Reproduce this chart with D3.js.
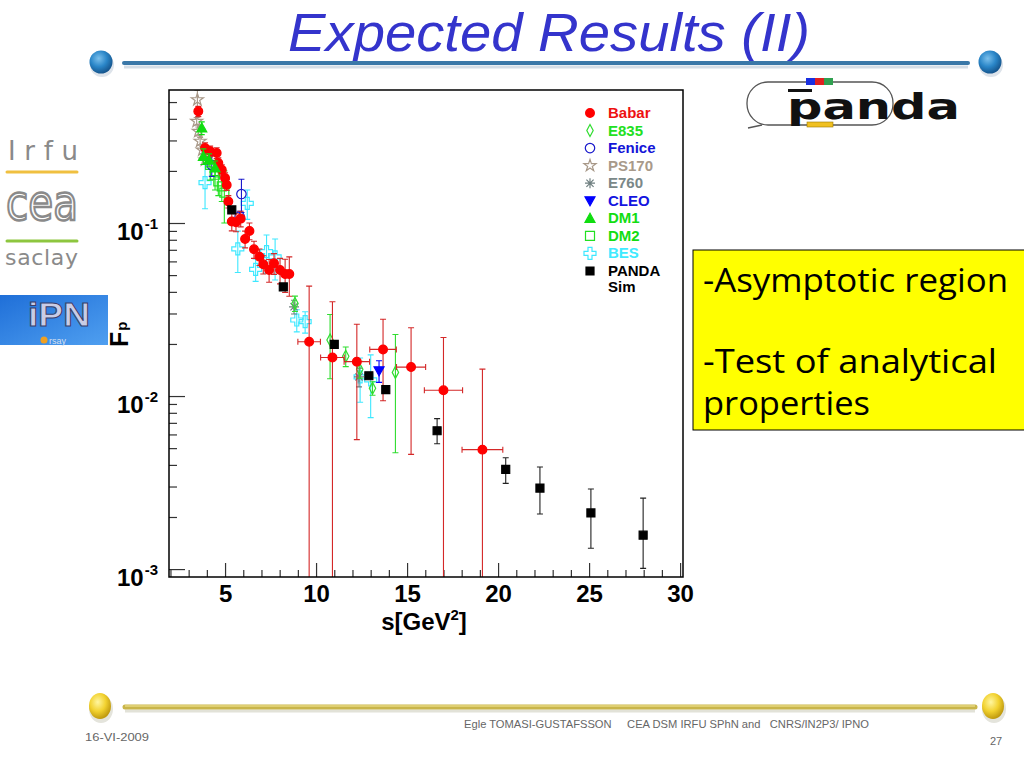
<!DOCTYPE html>
<html>
<head>
<meta charset="utf-8">
<script src="https://cdn.jsdelivr.net/npm/d3@7"></script>
<style>
  html, body { margin: 0; padding: 0; background: #fff; }
  svg { display: block; }
</style>
</head>
<body>
<div id="slide"></div>
<script>
/* DATA */
// Babar (horizontal half-widths in babarDS)
const babarS = [3.53, 3.90, 4.18, 4.54, 4.63, 4.82, 5.00, 5.09, 5.18, 5.37, 5.60, 5.86, 6.10, 6.34, 6.59, 6.89, 7.10, 7.42, 7.69, 8.02, 8.30, 8.53, 9.62, 10.90, 12.24, 13.68, 15.22, 17.00, 19.14];
const babarF = [0.442, 0.271, 0.260, 0.254, 0.222, 0.203, 0.182, 0.166, 0.133, 0.102, 0.101, 0.106, 0.0808, 0.0900, 0.0705, 0.0638, 0.0577, 0.0535, 0.0585, 0.0535, 0.0507, 0.0507, 0.0206, 0.0167, 0.0158, 0.0186, 0.0147, 0.0108, 0.0049];
const babarDF = [0.030, 0.020, 0.018, 0.018, 0.016, 0.014, 0.013, 0.012, 0.011, 0.012, 0.012, 0.011, 0.009, 0.010, 0.008, 0.007, 0.007, 0.008, 0.008, 0.009, 0.011, 0.013, 0.0226, 0.0184, 0.0102, 0.0092, 0.0101, 0.0110, 0.0094];
const babarDS = [0.08, 0.08, 0.08, 0.08, 0.08, 0.08, 0.08, 0.08, 0.08, 0.08, 0.08, 0.08, 0.08, 0.08, 0.08, 0.08, 0.08, 0.08, 0.08, 0.08, 0.08, 0.08, 0.62, 0.65, 0.70, 0.73, 0.80, 1.05, 1.12];
// E835
const e835S = [8.84, 10.77, 11.63, 12.40, 13.10, 14.36];
const e835F = [0.0343, 0.0211, 0.0170, 0.0143, 0.0111, 0.0137];
const e835DF = [0.0035, 0.0085, 0.0022, 0.0016, 0.0010, 0.0090];
// Fenice
const feniceS = [4.27, 5.80, 5.90];
const feniceF = [0.216, 0.109, 0.147];
const feniceDF = [0.030, 0.008, 0.032];
// PS170
const ps170S = [3.44, 3.48, 3.53, 3.63, 3.75, 3.90];
const ps170F = [0.387, 0.516, 0.339, 0.297, 0.264, 0.231];
const ps170DF = [0.020, 0.070, 0.020, 0.015, 0.013, 0.012];
// E760
const e760S = [8.79, 12.36];
const e760F = [0.0328, 0.0129];
const e760DF = [0.0030, 0.0016];
// CLEO
const cleoS = [13.46];
const cleoF = [0.0140];
const cleoDF = [0.0020];
// DM1
const dm1S = [3.72, 3.81, 4.12, 4.45];
const dm1F = [0.354, 0.243, 0.231, 0.208];
const dm1DF = [0.030, 0.025, 0.020, 0.020];
// DM2
const dm2S = [4.18, 4.45, 4.63, 4.82, 4.96];
const dm2F = [0.217, 0.190, 0.174, 0.163, 0.150];
const dm2DF = [0.040, 0.035, 0.030, 0.030, 0.050];
// BES
const besS = [3.90, 5.70, 6.22, 6.68, 7.28, 7.75, 8.94, 9.40, 12.42, 13.00];
const besF = [0.171, 0.0708, 0.130, 0.0540, 0.0683, 0.0638, 0.0275, 0.0269, 0.0129, 0.0124];
const besDF = [0.050, 0.0190, 0.025, 0.008, 0.017, 0.017, 0.0040, 0.0038, 0.0037, 0.0049];
// PANDA simulation (asymmetric errors)
const pandaS = [5.37, 8.20, 11.00, 12.90, 13.83, 16.65, 20.42, 22.30, 25.10, 27.97];
const pandaF = [0.119, 0.0427, 0.0199, 0.0131, 0.0109, 0.0063, 0.00377, 0.00294, 0.00211, 0.00157];
const pandaUp = [0.002, 0.001, 0.0006, 0.0004, 0.0004, 0.0011, 0.00063, 0.00095, 0.00079, 0.0010];
const pandaDn = [0.002, 0.001, 0.0006, 0.0004, 0.0004, 0.0010, 0.00064, 0.00086, 0.00079, 0.00056];
// Ticks
const xMajor = [5, 10, 15, 20, 25, 30];
const xMinor = d3.range(2, 31).filter(v => v % 5 !== 0);
const yMajor = [0.001, 0.01, 0.1];
const yExp = ["-3", "-2", "-1"];
const yMinor = [0.002, 0.003, 0.004, 0.005, 0.006, 0.007, 0.008, 0.009, 0.02, 0.03, 0.04, 0.05, 0.06, 0.07, 0.08, 0.09, 0.2, 0.3, 0.4, 0.5];
// Legend labels
const legendNames = ["Babar", "E835", "Fenice", "PS170", "E760", "CLEO", "DM1", "DM2", "BES", "PANDA"];

/* LAYOUT */
const W = 1024, H = 768;
const f = { left: 169, top: 90, right: 683, bottom: 577 };
const plotFont = "'Liberation Sans', Arial, sans-serif";

const svg = d3.select("#slide").append("svg")
    .attr("width", W).attr("height", H)
    .attr("viewBox", `0 0 ${W} ${H}`);
const defs = svg.append("defs");

// Gradients for the decorative balls
function ballGrad(id, light, mid, dark) {
    const g = defs.append("radialGradient").attr("id", id)
        .attr("cx", "40%").attr("cy", "35%").attr("r", "65%");
    g.append("stop").attr("offset", "0%").attr("stop-color", light);
    g.append("stop").attr("offset", "55%").attr("stop-color", mid);
    g.append("stop").attr("offset", "100%").attr("stop-color", dark);
}
ballGrad("blueBall", "#7cc0ec", "#2a86c8", "#16568e");
ballGrad("yellowBall", "#fff6a0", "#f2d230", "#c09a10");

const ipnGrad = defs.append("linearGradient").attr("id", "ipnGrad")
    .attr("x1", "0").attr("y1", "0").attr("x2", "1").attr("y2", "1");
ipnGrad.append("stop").attr("offset", "0%").attr("stop-color", "#1f6fd8");
ipnGrad.append("stop").attr("offset", "100%").attr("stop-color", "#4f9ff0");

defs.append("clipPath").attr("id", "frameClip")
    .append("rect")
    .attr("x", f.left).attr("y", f.top)
    .attr("width", f.right - f.left).attr("height", f.bottom - f.top);

/* SLIDE DECORATION */
// Title
svg.append("text")
    .attr("x", 549).attr("y", 51)
    .attr("text-anchor", "middle")
    .attr("textLength", 522).attr("lengthAdjust", "spacingAndGlyphs")
    .style("font-family", plotFont)
    .style("font-style", "italic")
    .style("font-size", "54px")
    .style("fill", "#3434cc")
    .text("Expected Results (II)");

// Top rule with blue balls
svg.append("line").attr("x1", 124).attr("x2", 968).attr("y1", 67).attr("y2", 67)
    .attr("stroke", "#d4dde6").attr("stroke-width", 3);
svg.append("line").attr("x1", 124).attr("x2", 968).attr("y1", 63).attr("y2", 63)
    .attr("stroke", "#3a78a8").attr("stroke-width", 4).attr("stroke-linecap", "round");
[101, 990].forEach(cx => {
    svg.append("ellipse").attr("cx", cx + 1).attr("cy", 65).attr("rx", 12).attr("ry", 12).attr("fill", "#dde3ea");
    svg.append("circle").attr("cx", cx).attr("cy", 62).attr("r", 11.5).attr("fill", "url(#blueBall)");
});

// Bottom rule with yellow balls
svg.append("line").attr("x1", 125).attr("x2", 975).attr("y1", 711).attr("y2", 711)
    .attr("stroke", "#e2e2d8").attr("stroke-width", 3);
svg.append("line").attr("x1", 125).attr("x2", 975).attr("y1", 707).attr("y2", 707)
    .attr("stroke", "#c9b54a").attr("stroke-width", 5).attr("stroke-linecap", "round");
svg.append("line").attr("x1", 125).attr("x2", 975).attr("y1", 706).attr("y2", 706)
    .attr("stroke", "#e6d880").attr("stroke-width", 1.5);
[100, 993].forEach(cx => {
    svg.append("ellipse").attr("cx", cx + 1).attr("cy", 709).attr("rx", 12).attr("ry", 14).attr("fill", "#e4e4dc");
    svg.append("ellipse").attr("cx", cx).attr("cy", 706).attr("rx", 11).attr("ry", 13).attr("fill", "url(#yellowBall)");
});

// Footer
svg.append("text").attr("x", 464).attr("y", 728)
    .attr("textLength", 405).attr("lengthAdjust", "spacingAndGlyphs")
    .style("white-space", "pre")
    .style("font-family", plotFont).style("font-size", "11px").style("fill", "#666")
    .text("Egle TOMASI-GUSTAFSSON     CEA DSM IRFU SPhN and   CNRS/IN2P3/ IPNO");
svg.append("text").attr("x", 85).attr("y", 741)
    .attr("textLength", 64).attr("lengthAdjust", "spacingAndGlyphs")
    .style("font-family", plotFont).style("font-size", "11px").style("fill", "#666")
    .text("16-VI-2009");
svg.append("text").attr("x", 990).attr("y", 745)
    .style("font-family", plotFont).style("font-size", "11px").style("fill", "#666")
    .text("27");

// Irfu / cea / saclay logo
svg.append("text").attr("x", 8).attr("y", 160)
    .attr("textLength", 70).attr("lengthAdjust", "spacing")
    .style("font-family", "'DejaVu Sans', sans-serif").style("font-size", "26px").style("fill", "#8a8a8a")
    .text("Irfu");
svg.append("line").attr("x1", 7).attr("x2", 77).attr("y1", 172).attr("y2", 172)
    .attr("stroke", "#f0c040").attr("stroke-width", 3).attr("stroke-linecap", "round");
svg.append("text").attr("x", 6).attr("y", 220)
    .attr("textLength", 72).attr("lengthAdjust", "spacingAndGlyphs")
    .style("font-family", "'DejaVu Sans', sans-serif").style("font-size", "50px")
    .style("fill", "none").style("stroke", "#8a8a8a").style("stroke-width", 2.5)
    .text("cea");
svg.append("line").attr("x1", 7).attr("x2", 77).attr("y1", 241).attr("y2", 241)
    .attr("stroke", "#8dc63f").attr("stroke-width", 3).attr("stroke-linecap", "round");
svg.append("text").attr("x", 5).attr("y", 265)
    .attr("textLength", 73).attr("lengthAdjust", "spacing")
    .style("font-family", "'DejaVu Sans', sans-serif").style("font-size", "22px").style("fill", "#8a8a8a")
    .text("saclay");

// IPN Orsay logo
svg.append("rect").attr("x", 0).attr("y", 295).attr("width", 108).attr("height", 50)
    .attr("fill", "url(#ipnGrad)");
svg.append("text").attr("x", 59).attr("y", 326).attr("text-anchor", "middle")
    .attr("textLength", 62).attr("lengthAdjust", "spacingAndGlyphs")
    .style("font-family", plotFont).style("font-weight", "bold").style("font-size", "33px")
    .style("fill", "#c9cce6").style("stroke", "#3a3f6a").style("stroke-width", 1)
    .text("iPN");
svg.append("circle").attr("cx", 44).attr("cy", 340).attr("r", 3.5).attr("fill", "#f0a020");
svg.append("text").attr("x", 49).attr("y", 344)
    .style("font-family", plotFont).style("font-size", "9px").style("fill", "#d8e0f0")
    .text("rsay");

// PANDA logo
svg.append("rect").attr("x", 747).attr("y", 82).attr("width", 146).attr("height", 43)
    .attr("rx", 21).attr("ry", 21)
    .attr("fill", "none").attr("stroke", "#555").attr("stroke-width", 1.3);
svg.append("line").attr("x1", 762).attr("x2", 748).attr("y1", 125).attr("y2", 128)
    .attr("stroke", "#555").attr("stroke-width", 1.3);
svg.append("text").attr("x", 787).attr("y", 119)
    .attr("textLength", 173).attr("lengthAdjust", "spacingAndGlyphs")
    .style("font-family", "'DejaVu Sans', sans-serif").style("font-weight", "bold").style("font-size", "36px")
    .style("fill", "#111")
    .text("panda");
svg.append("rect").attr("x", 788).attr("y", 89).attr("width", 24).attr("height", 3).attr("fill", "#111");
[["#1a2fe0", 806], ["#e02020", 815], ["#30a050", 824]].forEach(([c, x]) => {
    svg.append("rect").attr("x", x).attr("y", 78).attr("width", 9).attr("height", 7).attr("fill", c);
});
svg.append("rect").attr("x", 807).attr("y", 122).attr("width", 26).attr("height", 5)
    .attr("fill", "#f0c020").attr("stroke", "#997700").attr("stroke-width", 0.6);

// Yellow comment box
svg.append("rect").attr("x", 693).attr("y", 250).attr("width", 340).attr("height", 180)
    .attr("fill", "#ffff00").attr("stroke", "#000").attr("stroke-width", 1);
[["-Asymptotic region", 292, 305], ["-Test of analytical", 373, 294], ["properties", 415, 167]].forEach(([t, y, len]) => {
    svg.append("text").attr("x", 703).attr("y", y)
        .attr("textLength", len).attr("lengthAdjust", "spacingAndGlyphs")
        .style("font-family", "'Open Sans', sans-serif").style("font-size", "32px").style("fill", "#000")
        .text(t);
});

/* PLOT */
const x = d3.scaleLinear().domain([1.92, 30.16]).range([f.left, f.right]);
const y = d3.scaleLog().domain([0.0009, 0.587]).range([f.bottom, f.top]);

svg.append("rect")
    .attr("x", f.left).attr("y", f.top)
    .attr("width", f.right - f.left).attr("height", f.bottom - f.top)
    .attr("fill", "#fff");

// Axes
function styleAxis(g) {
    g.select(".domain").remove();
    g.selectAll(".tick line").attr("stroke", "#333").attr("stroke-width", 1.2);
}
svg.append("g").attr("transform", `translate(${f.left},0)`)
    .call(d3.axisLeft(y).tickValues(yMinor).tickSize(-8).tickFormat(""))
    .call(styleAxis);
svg.append("g").attr("transform", `translate(${f.left},0)`)
    .call(d3.axisLeft(y).tickValues(yMajor).tickSize(-16).tickFormat(""))
    .call(styleAxis);
svg.append("g").attr("transform", `translate(0,${f.bottom})`)
    .call(d3.axisBottom(x).tickValues(xMinor).tickSize(-7).tickFormat(""))
    .call(styleAxis);
const xAx = svg.append("g").attr("transform", `translate(0,${f.bottom})`)
    .call(d3.axisBottom(x).tickValues(xMajor).tickSize(-14).tickPadding(8).tickFormat(d3.format("d")))
    .call(styleAxis);
xAx.selectAll("text")
    .style("font-family", plotFont).style("font-weight", "bold").style("font-size", "24px")
    .style("fill", "#000");

// Y tick labels 10^n
yMajor.forEach((v, i) => {
    const t = svg.append("text")
        .attr("x", 117).attr("y", y(v) + 17)
        .style("font-family", plotFont).style("font-weight", "bold").style("font-size", "24px")
        .style("fill", "#000");
    t.append("tspan").text("10");
    t.append("tspan").attr("dy", -11).attr("dx", 1).style("font-size", "15px").text(yExp[i]);
});

// Axis titles
const xt = svg.append("text").attr("x", 424).attr("y", 630).attr("text-anchor", "middle")
    .style("font-family", plotFont).style("font-weight", "bold").style("font-size", "24px");
xt.append("tspan").text("s[GeV");
xt.append("tspan").attr("dy", -10).style("font-size", "15px").text("2");
xt.append("tspan").attr("dy", 10).text("]");

const yt = svg.append("text").attr("transform", "translate(128,347) rotate(-90)")
    .style("font-family", plotFont).style("font-weight", "bold").style("font-size", "25px");
yt.append("tspan").text("F");
yt.append("tspan").attr("dy", -1).attr("dx", 1).style("font-size", "15px").text("p");

/* MARKERS */
const sym = {
    circle: d3.symbol().type(d3.symbolCircle).size(60),
    openCircle: d3.symbol().type(d3.symbolCircle).size(70),
    diamond: () => "M0,-6L3.2,0L0,6L-3.2,0Z",
    star: d3.symbol().type(d3.symbolStar).size(45),
    asterisk: () => "M-5,0L5,0M0,-5L0,5M-3.6,-3.6L3.6,3.6M-3.6,3.6L3.6,-3.6",
    triDown: () => "M-5,-4L5,-4L0,5Z",
    triUp: () => "M-5,4L5,4L0,-5Z",
    square: () => "M-4,-4L4,-4L4,4L-4,4Z",
    openSquare: () => "M-4.5,-4.5L4.5,-4.5L4.5,4.5L-4.5,4.5Z",
    cross: d3.symbol().type(d3.symbolCross).size(80)
};

const series = [
    { name: "BES", s: besS, f: besF, up: besDF, dn: besDF, color: "#3ee8ff", shape: "cross", fill: "none" },
    { name: "DM2", s: dm2S, f: dm2F, up: dm2DF, dn: dm2DF, color: "#22e022", shape: "openSquare", fill: "none" },
    { name: "PS170", s: ps170S, f: ps170F, up: ps170DF, dn: ps170DF, color: "#a89888", shape: "star", fill: "none" },
    { name: "E760", s: e760S, f: e760F, up: e760DF, dn: e760DF, color: "#6f7f80", shape: "asterisk", fill: "none" },
    { name: "Fenice", s: feniceS, f: feniceF, up: feniceDF, dn: feniceDF, color: "#1a1acc", shape: "openCircle", fill: "none" },
    { name: "E835", s: e835S, f: e835F, up: e835DF, dn: e835DF, color: "#30dd30", shape: "diamond", fill: "none" },
    { name: "Babar", s: babarS, f: babarF, up: babarDF, dn: babarDF, ds: babarDS, color: "#ff0000", err: "#d42828", shape: "circle", fill: "#ff0000" },
    { name: "DM1", s: dm1S, f: dm1F, up: dm1DF, dn: dm1DF, color: "#10dd10", shape: "triUp", fill: "#10dd10" },
    { name: "CLEO", s: cleoS, f: cleoF, up: cleoDF, dn: cleoDF, color: "#0000ff", shape: "triDown", fill: "#0000ff" },
    { name: "PANDA", s: pandaS, f: pandaF, up: pandaUp, dn: pandaDn, color: "#000", err: "#222", shape: "square", fill: "#000" }
];

const plot = svg.append("g").attr("clip-path", "url(#frameClip)");
const cap = 3;
series.forEach(ser => {
    const pts = ser.s.map((s, i) => ({
        s, f: ser.f[i],
        hi: ser.f[i] + ser.up[i],
        lo: ser.f[i] - ser.dn[i],
        ds: ser.ds ? ser.ds[i] : 0
    }));
    const g = plot.append("g");
    const ec = ser.err || ser.color;
    // vertical errors
    g.selectAll("path.ev").data(pts).join("path")
        .attr("d", d => {
            const px = x(d.s);
            const yHi = y(d.hi);
            const yLo = d.lo > 0 ? y(d.lo) : f.bottom + 10;
            let p = `M${px},${yHi}L${px},${yLo}M${px - cap},${yHi}L${px + cap},${yHi}`;
            if (d.lo > 0) p += `M${px - cap},${yLo}L${px + cap},${yLo}`;
            return p;
        })
        .attr("fill", "none").attr("stroke", ec).attr("stroke-width", 1.1);
    // horizontal errors
    g.selectAll("path.eh").data(pts.filter(d => d.ds > 0)).join("path")
        .attr("d", d => {
            const py = y(d.f), x0 = x(d.s - d.ds), x1 = x(d.s + d.ds);
            return `M${x0},${py}L${x1},${py}M${x0},${py - cap}L${x0},${py + cap}M${x1},${py - cap}L${x1},${py + cap}`;
        })
        .attr("fill", "none").attr("stroke", ec).attr("stroke-width", 1.1);
    // markers
    g.selectAll("path.m").data(pts).join("path")
        .attr("transform", d => `translate(${x(d.s)},${y(d.f)})`)
        .attr("d", sym[ser.shape]())
        .attr("fill", ser.fill).attr("stroke", ser.color).attr("stroke-width", 1.2);
});

// Frame
svg.append("rect")
    .attr("x", f.left).attr("y", f.top)
    .attr("width", f.right - f.left).attr("height", f.bottom - f.top)
    .attr("fill", "none").attr("stroke", "#000").attr("stroke-width", 1.5);

/* LEGEND */
const legendColors = { Babar: "#ee1111", E835: "#22e022", Fenice: "#1414d8", PS170: "#a89a8a", E760: "#7a8888", CLEO: "#1414e0", DM1: "#12dd12", DM2: "#12dd12", BES: "#40eaff", PANDA: "#000" };
const legendY = d3.scalePoint().domain(legendNames).range([113, 271]);
const leg = svg.append("g");
legendNames.forEach(name => {
    const ser = series.find(s => s.name === name);
    const ly = legendY(name);
    leg.append("path")
        .attr("transform", `translate(590,${ly})`)
        .attr("d", sym[ser.shape]())
        .attr("fill", ser.fill).attr("stroke", ser.color).attr("stroke-width", 1.2);
    leg.append("text").attr("x", 608).attr("y", ly + 5)
        .style("font-family", plotFont).style("font-weight", "bold").style("font-size", "15px")
        .style("fill", legendColors[name])
        .text(name);
});
leg.append("text").attr("x", 608).attr("y", legendY("PANDA") + 21)
    .style("font-family", plotFont).style("font-weight", "bold").style("font-size", "15px")
    .style("fill", "#000").text("Sim");
</script>
</body>
</html>
